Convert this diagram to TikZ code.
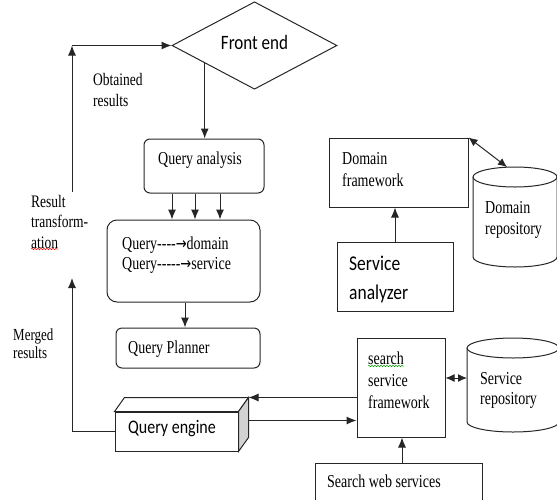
\documentclass[tikz,border=0pt]{standalone}
\usepackage{fontspec}
\setmainfont{Liberation Serif}
\newfontfamily\lsr{Liberation Serif}
\newfontfamily\dvs{DejaVu Sans}
\newfontfamily\calib{Carlito}
\usepackage{graphicx}
\usetikzlibrary{arrows.meta,shapes.geometric,decorations.pathmorphing,calc}
\newcommand{\stxt}[3]{\scalebox{1}[1.3]{\fontsize{#1}{#2}\selectfont\begin{tabular}{@{}l@{}}#3\end{tabular}}}
\newcommand{\ctxt}[3]{\scalebox{1}[1.2]{\calib\fontsize{#1}{#2}\selectfont\begin{tabular}{@{}l@{}}#3\end{tabular}}}
\newcommand{\rarr}{{\dvs\fontsize{13}{13}\selectfont\symbol{"2192}}}
\tikzset{
  ln/.style={line width=1pt, draw=black!85},
  arr/.style={ln, -{Latex[length=10pt,width=8pt]}},
  darr/.style={ln, {Latex[length=9pt,width=8pt]}-{Latex[length=9pt,width=8pt]}},
  box/.style={ln, rectangle, inner sep=0pt},
  rbox/.style={box, rounded corners=6pt},
  lbl/.style={anchor=west, inner sep=0pt, text=black},
  squig/.style={decorate, decoration={snake, amplitude=0.7pt, segment length=3pt}, line width=0.5pt}
}
\begin{document}
\begin{tikzpicture}[x=1pt,y=-1pt]
\useasboundingbox (0,0) rectangle (557,499);

% Front end
\node[diamond, ln, minimum width=165pt, minimum height=77pt, inner sep=0pt] (fe) at (254.5,45.5) {\ctxt{17}{17}{Front end}};

% Query analysis
\node[rbox, minimum width=120pt, minimum height=54pt] (qa) at (204,166) {};
\node[lbl] (qat) at (158,161) {\stxt{14}{14}{Query analysis}};

% Query mapping box
\node[box, rounded corners=10pt, minimum width=153pt, minimum height=82pt] (qb) at (183.5,261) {};
\node[lbl] (qbt) at (122,255) {\stxt{14}{15.4}{\lsr Query----\rarr domain\\\lsr Query-----\rarr service}};

% Query planner
\node[rbox, minimum width=144pt, minimum height=40pt] (qp) at (188,348) {};
\node[lbl] (qpt) at (128,350) {\stxt{14}{14}{Query Planner}};

% Query engine (cuboid)
\node[box, fill=white, minimum width=123pt, minimum height=39pt] (qe) at (176.5,431.5) {};
\coordinate (qeback) at ($(qe.north east)+(10,-14)$);
\coordinate (qebl) at ($(qe.north west)+(10,-14)$);
\coordinate (qebb) at ($(qe.south east)+(10,-14)$);
\filldraw[ln, fill=white] (qe.north west) -- (qebl) -- (qeback) -- (qe.north east) -- cycle;
\filldraw[ln, fill=gray!35] (qe.north east) -- (qeback) -- (qebb) -- (qe.south east) -- cycle;
\node[lbl] (qet) at (128,430) {\ctxt{16}{16}{Query engine}};

% Search service framework
\node[box, minimum width=88pt, minimum height=99pt] (sf) at (401,387.5) {};
\node[lbl] (sft) at (368,382) {\stxt{14}{17}{search\\service\\framework}};

% Search web services
\node[box, minimum width=167pt, minimum height=60pt] (sw) at (398.5,493) {};
\node[lbl] (swt) at (327,484) {\stxt{14}{14}{Search web services}};

% Domain framework
\node[box, minimum width=139pt, minimum height=69pt] (df) at (398.5,172.5) {};
\node[lbl] (dft) at (342,171) {\stxt{14}{17}{Domain\\framework}};

% Service analyzer
\node[box, minimum width=116pt, minimum height=69pt] (sa) at (395,276.5) {};
\node[lbl] (sat) at (349,279) {\ctxt{17.5}{24}{Service\\analyzer}};

% Domain repository (cylinder)
\draw[ln, fill=white] (473,177) -- (473,257) arc[start angle=180, end angle=0, x radius=42, y radius=10] -- (557,177);
\draw[ln, fill=white] (515,177) ellipse[x radius=42, y radius=10];
\coordinate (drtop) at (507,167);
\node[lbl] (drt) at (485,219.5) {\stxt{14}{16}{Domain\\repository}};

% Service repository (cylinder)
\draw[ln, fill=white] (467,348) -- (467,422) arc[start angle=180, end angle=0, x radius=46, y radius=10] -- (559,348);
\draw[ln, fill=white] (513,348) ellipse[x radius=46, y radius=10];
\coordinate (srleft) at (467,378);
\node[lbl] (srt) at (480,390) {\stxt{14}{15.4}{Service\\repository}};

% Side labels
\node[lbl] (obt) at (93,92) {\stxt{13.5}{15.4}{Obtained\\results}};
\node[lbl] (rtt) at (31,223.5) {\stxt{13.5}{15.8}{Result\\transform-\\ation}};
\node[lbl] (mrt) at (13,346) {\stxt{13}{14}{Merged\\results}};
\draw[red, squig] (31,249) -- (58,249);
\draw[green!60!black, squig] (368,366) -- (404,366);

% Connectors
\path (fe.west) -- (fe.south) coordinate[pos=0.4] (feo);
\draw[arr] (feo) -- (feo |- qa.north);
\foreach \dx in {-32,-9,16}
  \draw[arr] ([xshift=\dx pt]qa.south) -- ([xshift=\dx pt]qa.south |- qb.north);
\draw[arr] ([xshift=1.5pt]qb.south) -- ([xshift=1.5pt]qb.south |- qp.north);

\coordinate (lb) at (72,431.5);
\coordinate (rt2) at (72,278);
\coordinate (rt1) at (72,192);
\coordinate (lt) at (72,45.5);
\draw[arr] (qe.west) -- (lb) -- (rt2);
\draw[arr] (rt1) -- (lt);
\draw[arr] (lt) -- (fe.west);

\draw[arr] (sf.west |- qeback) -- (qeback);
\path (qeback) ++(0,23) coordinate (qeside);
\draw[arr] (qeside) -- (qeside -| sf.west);
\draw[arr] (sw.north -| 402,0) -- (sf.south -| 402,0);
\draw[darr] (sf.east |- srleft) -- (srleft);
\draw[arr] (sa.north) -- (sa.north |- df.south);
\draw[darr] (df.north east) -- (drtop);
\end{tikzpicture}
\end{document}
